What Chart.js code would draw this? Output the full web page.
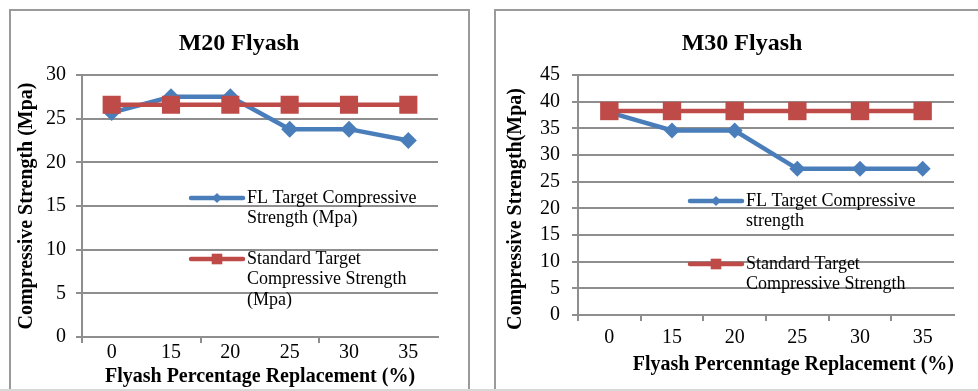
<!DOCTYPE html>
<html><head><meta charset="utf-8">
<script src="https://cdn.jsdelivr.net/npm/chart.js@4.4.1/dist/chart.umd.min.js"></script>
<style>
html,body{margin:0;padding:0;background:#fff;width:978px;height:391px;overflow:hidden;position:relative}
.frame{position:absolute;box-sizing:border-box;border:2px solid #9a9a9a;border-bottom:none}
#f1{left:9px;top:9px;width:461px;height:381px}
#f2{left:494px;top:9px;width:600px;height:381px}
#bl{position:absolute;left:0;top:389px;width:978px;height:2px;background:#d8d8d8}
canvas{position:absolute;top:0}
#c1{left:0}
#c2{left:488px}
</style></head><body>
<div class="frame" id="f1"></div><div class="frame" id="f2"></div><div id="bl"></div>
<canvas id="c1" width="480" height="391"></canvas>
<canvas id="c2" width="490" height="391"></canvas>
<script>
// ---- data ----
const categories = ['0', '15', '20', '25', '30', '35'];
const m20FL = [25.7, 27.5, 27.5, 23.8, 23.8, 22.5];
const m20Std = [26.6, 26.6, 26.6, 26.6, 26.6, 26.6];
const m30FL = [38.0, 34.6, 34.6, 27.4, 27.4, 27.4];
const m30Std = [38.25, 38.25, 38.25, 38.25, 38.25, 38.25];
const m20YTicks = {min: 0, max: 30, step: 5};
const m30YTicks = {min: 0, max: 45, step: 5};
const m20Legend = [['FL Target Compressive', 'Strength (Mpa)'], ['Standard Target', 'Compressive Strength', '(Mpa)']];
const m30Legend = [['FL Target Compressive', 'strength'], ['Standard Target', 'Compressive Strength']];

const FAMILY = '"Liberation Serif", "Times New Roman", serif';
const GRID = '#8e8e8e';
const BLUE = '#4A7EBB';
const RED = '#BE4B48';

const insideLegend = {
  id: 'insideLegend',
  afterDatasetsDraw(chart, args, opts) {
    const {ctx, chartArea} = chart;
    ctx.save();
    chart.data.datasets.forEach((ds, i) => {
      const y = chartArea.top + opts.y + i * opts.gap;
      const x0 = chartArea.left + opts.x, x1 = x0 + opts.len;
      ctx.strokeStyle = ds.borderColor;
      ctx.lineWidth = ds.borderWidth;
      ctx.lineCap = 'round';
      ctx.beginPath(); ctx.moveTo(x0, y); ctx.lineTo(x1, y); ctx.stroke();
      ctx.fillStyle = ds.backgroundColor;
      Chart.helpers.drawPoint(ctx, {pointStyle: ds.pointStyle, radius: opts.markerRadius[i], borderWidth: 0, rotation: 0}, (x0 + x1) / 2, y);
      ctx.fillStyle = '#000';
      ctx.font = opts.fontSize + 'px ' + FAMILY;
      ctx.textAlign = 'left';
      ctx.textBaseline = 'middle';
      opts.labels[i].forEach((line, j) => ctx.fillText(line, x1 + opts.textGap, y + j * opts.lineHeight));
    });
    ctx.restore();
  }
};

const yTitle = {
  id: 'yTitle',
  afterDraw(chart, args, opts) {
    const {ctx, chartArea} = chart;
    ctx.save();
    ctx.translate(opts.x, (chartArea.top + chartArea.bottom) / 2 + opts.dy);
    ctx.rotate(-Math.PI / 2);
    ctx.font = 'bold 20px ' + FAMILY;
    ctx.fillStyle = '#000';
    ctx.textAlign = 'center';
    ctx.textBaseline = 'middle';
    ctx.fillText(opts.text, 0, 0);
    ctx.restore();
  }
};

function makeChart(id, cfg) {
  return new Chart(document.getElementById(id), {
    type: 'line',
    data: {
      labels: categories,
      datasets: [
        {label: cfg.legend[0].join(' '), data: cfg.fl, borderColor: BLUE, backgroundColor: BLUE, borderWidth: 4.5,
         pointStyle: 'rectRot', pointRadius: cfg.diamondR, pointBorderWidth: 0, tension: 0, order: 1},
        {label: cfg.legend[1].join(' '), data: cfg.std, borderColor: RED, backgroundColor: RED, borderWidth: 4.5,
         pointStyle: 'rect', pointRadius: cfg.squareR, pointBorderWidth: 0, tension: 0, order: 0}
      ]
    },
    options: {
      responsive: false, animation: false,
      layout: {padding: {left: cfg.padL, right: cfg.padR, top: 0, bottom: 0}},
      scales: {
        x: {
          type: 'category', offset: true,
          grid: {display: true, drawOnChartArea: false, drawTicks: true, tickLength: 6, lineWidth: 2, offset: true,
                 color: c => (c.index % cfg.xTickEvery === 0) ? GRID : 'rgba(0,0,0,0)'},
          border: {display: true, color: GRID, width: 2},
          ticks: {font: {family: FAMILY, size: 20, lineHeight: 1}, color: '#000', padding: cfg.xTickPad, maxRotation: 0, autoSkip: false},
          title: {display: true, text: cfg.xTitle, color: '#000', align: cfg.xTitleAlign,
                  font: {family: FAMILY, size: 20, weight: 'bold', lineHeight: 1.2}, padding: {top: 0, bottom: cfg.xTitlePadB}},
          afterFit: s => { s.height = cfg.xHeight; }
        },
        y: {
          min: cfg.yTicks.min, max: cfg.yTicks.max,
          ticks: {stepSize: cfg.yTicks.step, font: {family: FAMILY, size: 20, lineHeight: 1}, color: '#000', padding: cfg.yTickPad},
          grid: {color: GRID, lineWidth: 2, tickLength: 6, drawTicks: true},
          border: {display: true, color: GRID, width: 2},
          afterFit: s => { s.width = cfg.yWidth; }
        }
      },
      plugins: {
        legend: {display: false},
        tooltip: {enabled: false},
        title: {display: true, text: cfg.title, color: '#000',
                font: {family: FAMILY, size: 24, weight: 'bold', lineHeight: 1.2}, padding: {top: 29.6, bottom: 16.6}},
        insideLegend: {x: cfg.legX, y: cfg.legY, gap: cfg.legGap, len: 52, textGap: 4, fontSize: 18, lineHeight: 20.5,
                       markerRadius: [5, 7.5], labels: cfg.legend},
        yTitle: {text: cfg.yTitle, x: cfg.yTitleX, dy: cfg.yTitleDy}
      }
    },
    plugins: [insideLegend, yTitle]
  });
}

makeChart('c1', {
  fl: m20FL, std: m20Std, legend: m20Legend, yTicks: m20YTicks,
  title: 'M20 Flyash', xTitle: 'Flyash Percentage Replacement (%)', yTitle: 'Compressive Strength (Mpa)',
  padL: 40, padR: 42, yWidth: 42, xHeight: 54, xTickEvery: 2, xTickPad: 0, yTickPad: 10,
  xTitleAlign: 'center', xTitlePadB: 2, yTitleX: 27, yTitleDy: 0,
  diamondR: 8.5, squareR: 12.8, legX: 109, legY: 123, legGap: 61
});
makeChart('c2', {
  fl: m30FL, std: m30Std, legend: m30Legend, yTicks: m30YTicks,
  title: 'M30 Flyash', xTitle: 'Flyash Percenntage Replacement (%)', yTitle: 'Compressive Strength(Mpa)',
  padL: 42, padR: 24, yWidth: 48, xHeight: 76, xTickEvery: 1, xTickPad: 7, yTickPad: 12,
  xTitleAlign: 'end', xTitlePadB: 14, yTitleX: 28, yTitleDy: 14,
  diamondR: 8, squareR: 13, legX: 112, legY: 126, legGap: 63
});
</script>
</body></html>
